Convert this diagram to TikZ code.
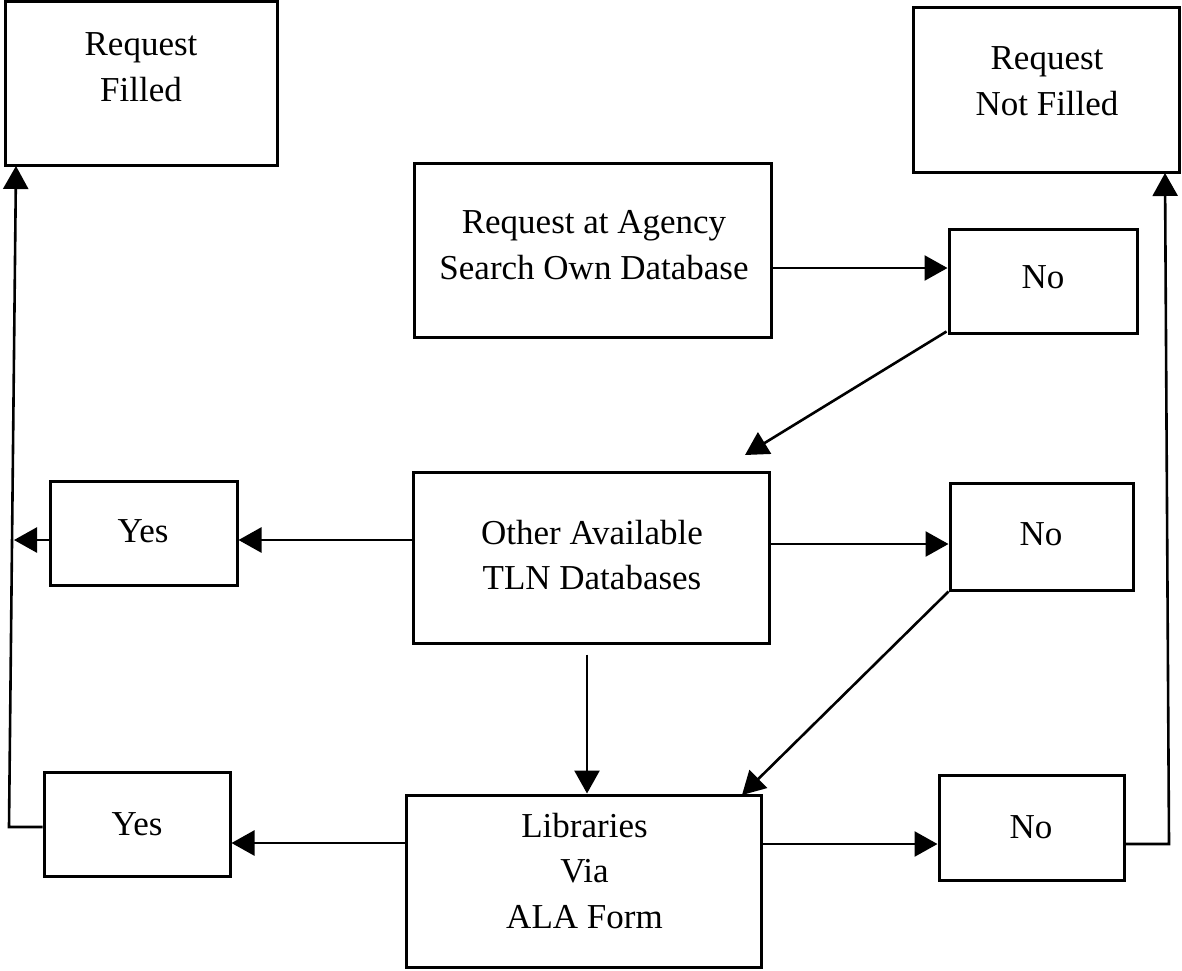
\documentclass[tikz,border=0pt]{standalone}
\usepackage{fontspec}
\setmainfont{Liberation Serif}
\usetikzlibrary{arrows.meta,calc}
\newcommand\mkbox[5]{\node[box, minimum width={#4-#2}, minimum height={#5-#3}] (#1) at ({(#2+#4)/2},{(#3+#5)/2}) {};}
\begin{document}
\begin{tikzpicture}[x=1pt,y=-1pt,
  box/.style={draw, line width=3pt, inner sep=0pt},
  txt/.style={align=center, font=\fontsize{35}{45.5}\selectfont, inner sep=0pt},
  conn/.style={line width=2.6pt, -{Triangle[length=23pt,width=25pt]}},
  plainln/.style={line width=2.6pt}]
\useasboundingbox (0,0) rectangle (1182,970);
% boxes
\mkbox{rf}{5}{1}{277}{165}
\mkbox{rnf}{913}{7}{1179}{172}
\mkbox{ag}{414}{163}{771}{337}
\mkbox{no1}{949}{229}{1137}{333}
\mkbox{oth}{413}{472}{769}{643}
\mkbox{yes1}{50}{481}{237}{585}
\mkbox{no2}{950}{483}{1133}{590}
\mkbox{lib}{406}{795}{761}{967}
\mkbox{yes2}{44}{772}{230}{876}
\mkbox{no3}{939}{775}{1124}{880}
% texts
\node[txt] (trf) at (141,67) {Request\\Filled};
\node[txt] (trnf) at (1047,81) {Request\\Not Filled};
\node[txt] (tag) at (594,245) {Request at Agency\\Search Own Database};
\node[txt] (toth) at (592,555) {Other Available\\TLN Databases};
\node[txt] (tlib) at (584.5,871) {Libraries\\Via\\ALA Form};
\node[txt] (tyes1) at (143,531) {Yes};
\node[txt] (tyes2) at (137,824) {Yes};
\node[txt] (tno1) at (1043,277) {No};
\node[txt] (tno2) at (1041,534) {No};
\node[txt] (tno3) at (1031,827) {No};
% free ends and bends
\coordinate (e1) at (745,455);
\coordinate (e2) at (742,795);
\coordinate (l1) at (9,827);
\coordinate (l2) at (16,166);
\coordinate (lm) at (14,540);
\coordinate (r1) at (1169,844);
\coordinate (r2) at (1165,173);
% connectors
\draw[conn] (ag.east |- 0,268) -- (no1.west |- 0,268);
\draw[conn] ($(no1.south west)+(-1,-3)$) -- (e1);
\draw[conn] (oth.west |- 0,540) -- (yes1.east |- 0,540);
\draw[conn] (oth.east |- 0,544) -- (no2.west |- 0,544);
\draw[conn] ($(oth.south -| 587,0)+(0,10)$) -- (lib.north -| 587,0);
\draw[conn] (no2.south west) -- (e2);
\draw[conn] (lib.west |- 0,843) -- (yes2.east |- 0,843);
\draw[conn] (lib.east |- 0,844) -- (no3.west |- 0,844);
\draw[conn] (yes1.west |- 0,540) -- (lm);
\draw[conn] (yes2.west |- 0,827) -- (l1) -- (l2);
\draw[conn] (no3.east |- 0,844) -- (r1) -- (r2);
\end{tikzpicture}
\end{document}
